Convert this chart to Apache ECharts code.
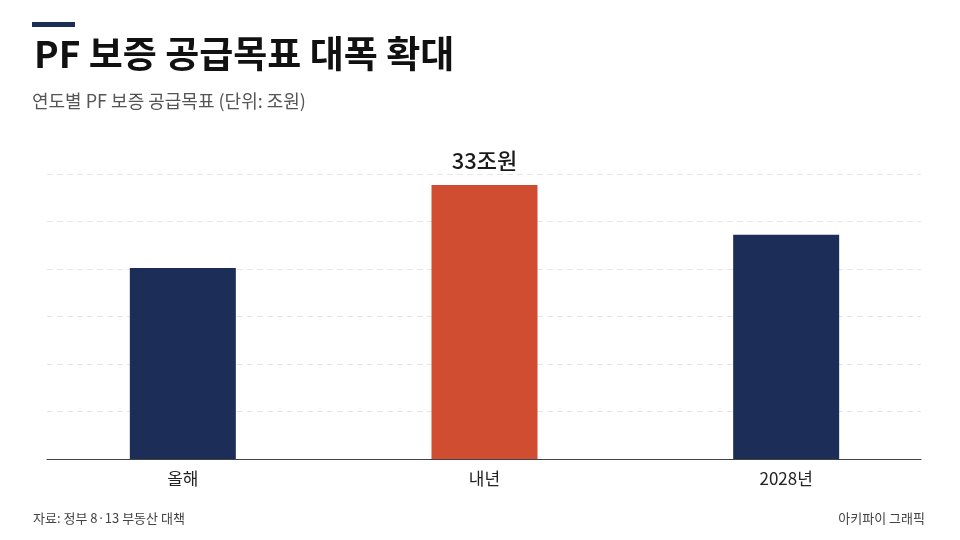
<!DOCTYPE html>
<html>
<head>
    <meta charset="UTF-8">
    <title>PF 보증 공급목표</title>
    <style>
        html, body {
            margin: 0;
            height: 100%;
            background-color: #FFF;
        }
    </style>
</head>
<body>
<div id="main" style="width: 960px; height: 540px"></div>

<script src="https://cdn.jsdelivr.net/npm/echarts@6/dist/echarts.min.js"></script>
<script type="text/javascript">
    // 연도별 PF 보증 공급목표 (조원)
    var categories = ['올해', '내년', '2028년'];
    var values = [23, 33, 27];
    var barColors = ['#1c2e58', '#d14d31', '#1c2e58'];
    var labelShown = [false, true, false];

    var font = '"Noto Sans CJK KR", "Noto Sans", sans-serif';

    var mCharts = echarts.init(document.getElementById('main'));

    var mOptions = {
        backgroundColor: '#fff',
        textStyle: {fontFamily: font},
        title: [{
            text: 'PF 보증 공급목표 대폭 확대',
            left: 29,
            top: 30,
            textStyle: {fontSize: 37, fontWeight: 'bold', color: '#111', fontFamily: font}
        }, {
            text: '연도별 PF 보증 공급목표 (단위: 조원)',
            left: 27,
            top: 87,
            textStyle: {fontSize: 18, fontWeight: 'normal', color: '#555', fontFamily: font}
        }, {
            text: '자료: 정부 8·13 부동산 대책',
            left: 28,
            top: 507,
            textStyle: {fontSize: 13, fontWeight: 'normal', color: '#444', fontFamily: font}
        }, {
            text: '아키파이 그래픽',
            right: 30,
            top: 507,
            textStyle: {fontSize: 13, fontWeight: 'normal', color: '#444', fontFamily: font}
        }],

        graphic: [{
            type: 'rect',
            left: 32,
            top: 22,
            shape: {width: 43, height: 5},
            style: {fill: '#1c2e58'}
        }],

        // grid 0: bars and labels, grid 1: gridlines and baseline
        grid: [{
            left: 32,
            right: 23,
            top: 174,
            bottom: 81
        }, {
            left: 47,
            right: 39,
            top: 174,
            bottom: 81
        }],

        xAxis: [{
            type: 'category',
            gridIndex: 0,
            data: categories,
            axisLine: {show: false},
            axisTick: {show: false},
            axisLabel: {color: '#222', fontSize: 17, margin: 11, fontFamily: font}
        }, {
            type: 'category',
            gridIndex: 1,
            data: categories,
            axisLine: {lineStyle: {color: '#444', width: 1.2}},
            axisTick: {show: false},
            axisLabel: {show: false}
        }],

        yAxis: [{
            type: 'value',
            gridIndex: 0,
            min: 0,
            max: 34.32,
            interval: 5.72,
            axisLine: {show: false},
            axisTick: {show: false},
            axisLabel: {show: false},
            splitLine: {show: false}
        }, {
            type: 'value',
            gridIndex: 1,
            min: 0,
            max: 34.32,
            interval: 5.72,
            axisLine: {show: false},
            axisTick: {show: false},
            axisLabel: {show: false},
            splitLine: {lineStyle: {color: '#e6e6e6', type: [6, 4], width: 1}}
        }],

        series: [{
            type: 'bar',
            xAxisIndex: 0,
            yAxisIndex: 0,
            barWidth: 106,
            data: values.map(function (v, i) {
                return {
                    value: v,
                    itemStyle: {color: barColors[i]},
                    label: {
                        show: labelShown[i],
                        position: 'top',
                        distance: 13,
                        formatter: '{c}조원',
                        fontSize: 22,
                        fontWeight: 500,
                        color: '#1a1a1a',
                        fontFamily: font
                    }
                };
            })
        }]
    };

    mCharts.setOption(mOptions);
</script>
</body>
</html>
